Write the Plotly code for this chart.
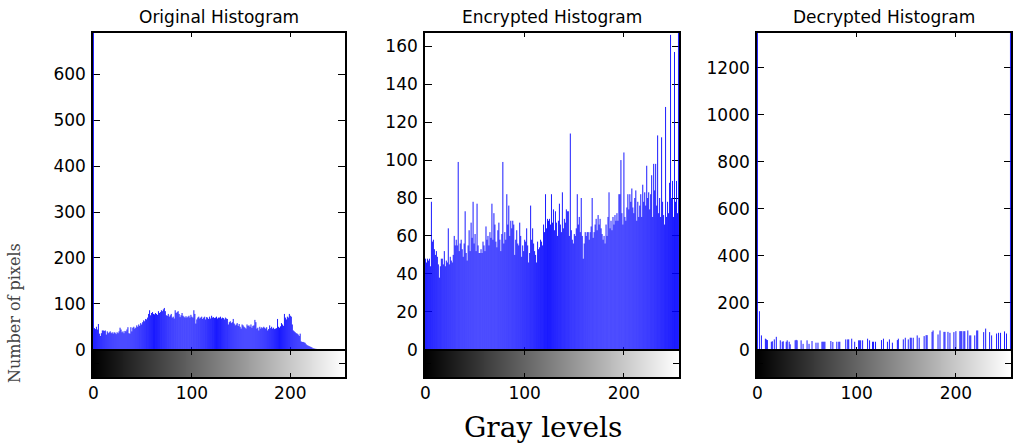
import plotly.graph_objects as go

# gray levels 0..255 (x axis of every histogram)
gray_levels = list(range(256))

titles = ["Original Histogram", "Encrypted Histogram", "Decrypted Histogram"]

# pixel counts per gray level
original_counts = [
    720, 47, 45, 50, 44, 56, 35, 30, 36, 42, 42, 41, 42, 33, 40, 36,
    38, 40, 36, 38, 35, 38, 37, 34, 38, 36, 40, 48, 44, 38, 40, 36,
    41, 40, 44, 49, 36, 35, 49, 40, 48, 50, 46, 48, 53, 50, 55, 52,
    58, 55, 60, 64, 62, 67, 66, 70, 78, 86, 75, 80, 82, 78, 77, 80,
    78, 76, 84, 80, 82, 86, 84, 88, 91, 84, 75, 74, 78, 72, 75, 78,
    70, 72, 68, 86, 80, 82, 84, 78, 71, 75, 80, 74, 72, 70, 73, 70,
    72, 74, 70, 76, 72, 70, 86, 78, 57, 66, 70, 72, 68, 70, 72, 67,
    70, 72, 66, 71, 70, 67, 72, 68, 74, 70, 71, 69, 70, 72, 68, 70,
    70, 72, 68, 70, 69, 66, 70, 68, 67, 55, 60, 62, 58, 60, 67, 57,
    53, 55, 58, 52, 56, 50, 46, 55, 53, 50, 48, 46, 55, 52, 53, 50,
    55, 48, 52, 53, 65, 60, 46, 48, 42, 50, 46, 49, 47, 50, 48, 46,
    49, 42, 45, 53, 47, 50, 46, 48, 45, 46, 47, 67, 50, 48, 51, 58,
    55, 52, 78, 70, 66, 72, 70, 78, 74, 72, 55, 42, 40, 38, 36, 35,
    33, 30, 35, 18, 17, 17, 16, 15, 12, 10, 9, 8, 7, 6, 5, 3,
    3, 2, 2, 1, 1, 1, 1, 1, 1, 1, 0, 0, 0, 0, 0, 0,
    0, 0, 0, 0, 0, 0, 0, 0, 0, 0, 0, 0, 0, 0, 0, 0,
]

encrypted_counts = [
    48, 46, 48, 47, 48, 44, 78, 57, 58, 53, 50, 52, 49, 45, 38, 44,
    48, 48, 45, 52, 44, 47, 46, 64, 45, 49, 47, 46, 50, 60, 55, 58,
    55, 99, 52, 56, 58, 53, 49, 56, 73, 51, 47, 55, 63, 52, 67, 59,
    78, 56, 61, 52, 77, 55, 51, 51, 53, 51, 57, 55, 52, 65, 58, 60,
    55, 62, 59, 77, 58, 72, 66, 57, 54, 63, 67, 58, 52, 61, 99, 56,
    62, 58, 82, 66, 76, 60, 68, 64, 68, 66, 50, 58, 63, 56, 55, 67,
    60, 49, 55, 52, 58, 57, 64, 55, 46, 51, 76, 58, 64, 56, 52, 50,
    46, 57, 53, 54, 58, 57, 55, 66, 62, 82, 64, 69, 68, 69, 66, 82,
    67, 74, 63, 73, 67, 60, 68, 77, 66, 62, 83, 64, 69, 67, 74, 73,
    73, 60, 114, 63, 58, 56, 61, 60, 64, 82, 66, 70, 62, 80, 60, 48,
    56, 62, 60, 62, 62, 58, 62, 65, 80, 59, 62, 66, 69, 63, 71, 66,
    69, 64, 61, 58, 60, 56, 66, 60, 70, 83, 64, 68, 63, 70, 66, 71,
    68, 72, 68, 82, 82, 100, 72, 66, 104, 70, 68, 75, 82, 74, 82, 78,
    85, 75, 72, 80, 84, 68, 78, 70, 76, 82, 70, 87, 78, 83, 76, 97,
    80, 83, 74, 82, 92, 70, 98, 84, 98, 76, 113, 72, 80, 70, 112, 78,
    71, 66, 128, 70, 78, 72, 88, 166, 80, 89, 70, 157, 78, 89, 72, 200,
]

decrypted_counts = [
    1400, 0, 164, 0, 61, 0, 0, 0, 47, 44, 41, 0, 0, 0, 34, 36,
    0, 44, 0, 55, 0, 0, 0, 40, 0, 34, 36, 0, 0, 34, 40, 0,
    34, 23, 0, 0, 0, 0, 40, 42, 40, 0, 0, 0, 40, 0, 25, 0,
    0, 0, 40, 0, 25, 0, 0, 37, 0, 0, 0, 30, 0, 30, 0, 0,
    0, 34, 34, 34, 34, 0, 0, 0, 0, 0, 37, 0, 33, 0, 0, 0,
    34, 0, 34, 34, 0, 0, 0, 0, 0, 44, 0, 44, 44, 0, 0, 47,
    0, 0, 34, 0, 0, 0, 40, 40, 40, 0, 40, 0, 0, 0, 0, 47,
    0, 40, 0, 0, 34, 34, 0, 34, 0, 0, 0, 0, 0, 41, 0, 47,
    0, 0, 0, 34, 0, 44, 0, 0, 30, 0, 0, 0, 0, 41, 47, 0,
    0, 0, 0, 44, 0, 51, 0, 0, 44, 0, 51, 51, 0, 51, 0, 0,
    0, 61, 0, 51, 0, 0, 0, 0, 58, 0, 62, 62, 0, 0, 0, 0,
    76, 82, 0, 0, 0, 0, 65, 0, 82, 0, 0, 0, 76, 76, 0, 0,
    76, 0, 72, 0, 0, 0, 75, 0, 79, 0, 0, 0, 79, 79, 79, 0,
    79, 79, 0, 0, 82, 0, 61, 61, 0, 0, 0, 61, 0, 82, 82, 0,
    0, 0, 0, 0, 75, 0, 90, 0, 0, 0, 75, 0, 61, 0, 0, 0,
    0, 69, 0, 72, 0, 72, 0, 0, 0, 78, 0, 69, 0, 0, 0, 1400,
]

y_max = [690, 167, 1349]
y_step = [100, 20, 200]

all_counts = [original_counts, encrypted_counts, decrypted_counts]

# panel placement (paper fractions)
x_domains = [[0.0917, 0.3402], [0.4191, 0.6696], [0.7465, 0.9970]]
main_ydom = [0.2077, 0.9255]
bar_ydom = [0.149, 0.2077]

tick_font = dict(family="DejaVu Sans", size=17, color="black")


def stems(counts):
    """x/y lists for a stem plot: one vertical segment per gray level plus a baseline"""
    xs, ys = [], []
    for g, c in zip(gray_levels, counts):
        xs += [g, g, None]
        ys += [0, c, None]
    xs += [gray_levels[0], gray_levels[-1]]
    ys += [0, 0]
    return xs, ys


fig = go.Figure()
layout = {}
annotations = []

for i, counts in enumerate(all_counts):
    main = i + 1
    cbar = i + 4
    mx, my = stems(counts)
    fig.add_trace(go.Scatter(
        x=mx, y=my, mode="lines",
        line=dict(color="#0000ff", width=0.9),
        xaxis=f"x{main}", yaxis=f"y{main}",
        showlegend=False, hoverinfo="skip",
    ))
    fig.add_trace(go.Heatmap(
        z=[gray_levels], x=gray_levels, y=[0.5],
        colorscale=[[0, "black"], [1, "white"]],
        showscale=False, xaxis=f"x{cbar}", yaxis=f"y{cbar}",
        hoverinfo="skip",
    ))

    xr = [-0.5, 255.5]
    layout[f"xaxis{main}"] = dict(
        domain=x_domains[i], range=xr, anchor=f"y{main}",
        showline=True, linecolor="black", linewidth=1.5, mirror="ticks",
        ticks="inside", ticklen=4, tickcolor="black",
        tickvals=[0, 100, 200], showticklabels=False,
        showgrid=False, zeroline=False, layer="below traces",
    )
    layout[f"yaxis{main}"] = dict(
        domain=main_ydom, range=[-y_max[i] * 0.004, y_max[i]], anchor=f"x{main}",
        showline=True, linecolor="black", linewidth=1.5, mirror="ticks",
        ticks="inside", ticklen=7, tickcolor="black",
        tickvals=list(range(0, y_max[i], y_step[i])),
        tickfont=tick_font, ticklabelstandoff=2,
        showgrid=False, zeroline=False, layer="below traces",
    )
    layout[f"xaxis{cbar}"] = dict(
        domain=x_domains[i], range=xr, anchor=f"y{cbar}",
        showline=True, linecolor="black", linewidth=2, mirror="ticks",
        ticks="inside", ticklen=4, tickcolor="black",
        tickvals=[0, 100, 200], tickfont=tick_font,
        showgrid=False, zeroline=False,
    )
    layout[f"yaxis{cbar}"] = dict(
        domain=bar_ydom, range=[0, 1], anchor=f"x{cbar}",
        showline=True, linecolor="black", linewidth=2, mirror="ticks",
        ticks="inside", ticklen=6, tickcolor="black",
        tickvals=[0.5], showticklabels=False,
        showgrid=False, zeroline=False,
    )

    annotations.append(dict(
        text=titles[i], x=sum(x_domains[i]) / 2, y=1 - 17 / 443,
        xref="paper", yref="paper", showarrow=False,
        xanchor="center", yanchor="middle",
        font=dict(family="DejaVu Sans", size=17, color="black"),
    ))

annotations.append(dict(
    text="Number of pixels", x=14 / 1014, y=1 - 313 / 443,
    xref="paper", yref="paper", showarrow=False, textangle=-90,
    xanchor="center", yanchor="middle",
    font=dict(family="DejaVu Serif", size=16, color="#444444"),
))
annotations.append(dict(
    text="Gray levels", x=543 / 1014, y=1 - 427 / 443,
    xref="paper", yref="paper", showarrow=False,
    xanchor="center", yanchor="middle",
    font=dict(family="DejaVu Serif", size=28, color="black"),
))

fig.update_layout(
    **layout,
    annotations=annotations,
    template="none",
    width=1014, height=443,
    margin=dict(l=0, r=0, t=0, b=0),
    paper_bgcolor="white", plot_bgcolor="white",
    showlegend=False,
)

# drop the page's default body margin so the figure sits at the window corner
fig.write_html(
    "out.html",
    config={"displayModeBar": False},
    post_script="document.body.style.margin='0';",
)
